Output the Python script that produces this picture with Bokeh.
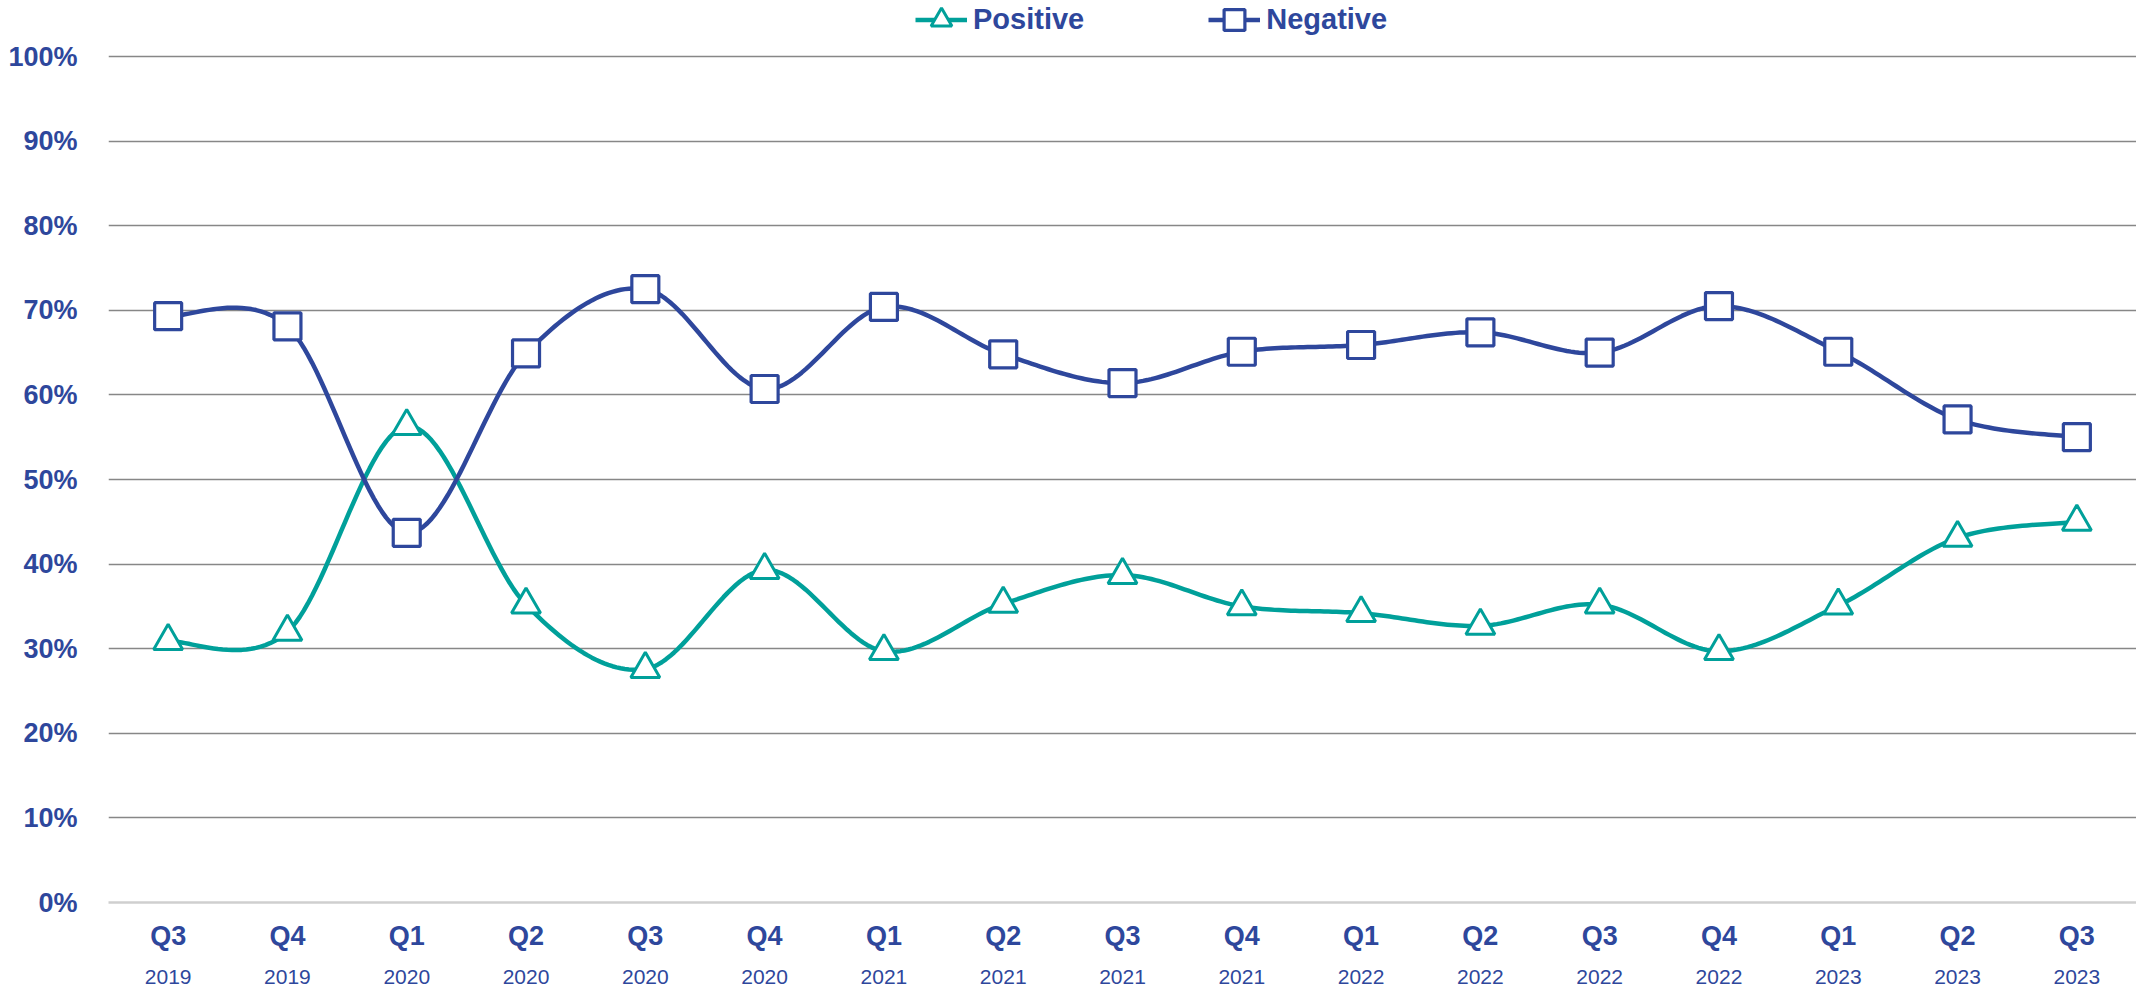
import numpy as np
from bokeh.plotting import figure
from bokeh.models import (Range1d, FixedTicker, LinearAxis, Legend, LegendItem,
                          PrintfTickFormatter)
from bokeh.embed import file_html
from bokeh.resources import INLINE

# ---------------- data ----------------
quarters = ["Q3", "Q4", "Q1", "Q2", "Q3", "Q4", "Q1", "Q2", "Q3", "Q4",
            "Q1", "Q2", "Q3", "Q4", "Q1", "Q2", "Q3"]
years = ["2019", "2019", "2020", "2020", "2020", "2020", "2021", "2021", "2021",
         "2021", "2022", "2022", "2022", "2022", "2023", "2023", "2023"]
positive = [30.9, 32.0, 56.3, 35.2, 27.6, 39.3, 29.7, 35.3, 38.7, 35.0,
            34.2, 32.7, 35.2, 29.7, 35.1, 43.1, 45.0]
negative = [69.3, 68.1, 43.7, 64.9, 72.5, 60.7, 70.4, 64.8, 61.4, 65.1,
            65.9, 67.4, 65.0, 70.5, 65.1, 57.1, 55.0]
y_ticks = [0, 10, 20, 30, 40, 50, 60, 70, 80, 90, 100]
series_names = ["Positive", "Negative"]

BLUE = "#2E479C"
TEAL = "#00A09A"
FONT = "Liberation Sans"

x = [i + 0.5 for i in range(len(quarters))]


def smooth(xs, ys, n=30):
    """Excel-like smoothed line: cubic Bezier segments with Catmull-Rom control points."""
    xs = np.asarray(xs, float)
    ys = np.asarray(ys, float)
    px = np.concatenate([[xs[0]], xs, [xs[-1]]])
    py = np.concatenate([[ys[0]], ys, [ys[-1]]])
    t = np.linspace(0, 1, n)
    ox, oy = [], []
    for i in range(len(xs) - 1):
        x0, y0 = xs[i], ys[i]
        x3, y3 = xs[i + 1], ys[i + 1]
        x1 = x0 + (px[i + 2] - px[i]) / 6
        y1 = y0 + (py[i + 2] - py[i]) / 6
        x2 = x3 - (px[i + 3] - px[i + 1]) / 6
        y2 = y3 - (py[i + 3] - py[i + 1]) / 6
        tt = t if i == 0 else t[1:]
        a = (1 - tt) ** 3
        b = 3 * (1 - tt) ** 2 * tt
        c = 3 * (1 - tt) * tt ** 2
        d = tt ** 3
        ox.extend(a * x0 + b * x1 + c * x2 + d * x3)
        oy.extend(a * y0 + b * y1 + c * y2 + d * y3)
    return ox, oy


# layout (pixels)
PLOT_H = 846          # height of 0..100%
TOP_SPACE = 56        # legend band above 100%
FRAME_H = PLOT_H + TOP_SPACE
FRAME_W = 2028
LEFT = 108
LEG_H = 55
LEG_TOP = -8          # legend box top (only empty glyph padding falls outside)

p = figure(width=LEFT + FRAME_W, height=989, frame_width=FRAME_W, frame_height=FRAME_H,
           output_backend="svg", toolbar_location=None,
           x_range=Range1d(0, len(quarters)),
           y_range=Range1d(0, 100 * FRAME_H / PLOT_H),
           min_border_left=LEFT, min_border_right=0, min_border_top=0,
           min_border_bottom=0, outline_line_color=None)

# grid
p.xgrid.visible = False
p.ygrid.ticker = FixedTicker(ticks=y_ticks[1:])
p.ygrid.grid_line_color = "#878787"
p.ygrid.grid_line_width = 1.7

# y axis
p.yaxis.ticker = FixedTicker(ticks=y_ticks)
p.yaxis.formatter = PrintfTickFormatter(format="%d%%")
p.yaxis.axis_line_color = None
p.yaxis.major_tick_line_color = None
p.yaxis.minor_tick_line_color = None
p.yaxis.major_label_standoff = 25
p.yaxis.major_label_text_font = FONT
p.yaxis.major_label_text_font_style = "bold"
p.yaxis.major_label_text_font_size = "27px"
p.yaxis.major_label_text_color = BLUE

# x axis: quarters
xa = p.xaxis[0]
xa.ticker = FixedTicker(ticks=x)
xa.major_label_overrides = {xi: q for xi, q in zip(x, quarters)}
xa.axis_line_color = "#CFCFCF"
xa.axis_line_width = 2.5
xa.major_tick_line_color = None
xa.minor_tick_line_color = None
xa.major_tick_out = 0
xa.major_tick_in = 0
xa.major_label_standoff = 18
xa.major_label_text_font = FONT
xa.major_label_text_font_style = "bold"
xa.major_label_text_font_size = "27px"
xa.major_label_text_color = BLUE

# x axis: years
ya = LinearAxis(ticker=FixedTicker(ticks=x),
                major_label_overrides={xi: yv for xi, yv in zip(x, years)})
ya.axis_line_color = None
ya.major_tick_line_color = None
ya.minor_tick_line_color = None
ya.major_tick_out = 0
ya.major_tick_in = 0
ya.major_label_standoff = 16
ya.major_label_text_font = FONT
ya.major_label_text_font_size = "21px"
ya.major_label_text_color = BLUE
p.add_layout(ya, "below")

# series
sx, sy = smooth(x, positive)
pos_line = p.line(sx, sy, line_color=TEAL, line_width=4.5, line_join="round")
pos_sc = p.scatter(x, positive, marker="triangle", size=29, line_color=TEAL,
                   line_width=3, fill_color="white")
nx, ny = smooth(x, negative)
neg_line = p.line(nx, ny, line_color=BLUE, line_width=4.5, line_join="round")
neg_sc = p.scatter(x, negative, marker="square", size=27, line_color=BLUE,
                   line_width=3.2, fill_color="white")

legend = Legend(items=[LegendItem(label=series_names[0], renderers=[pos_line, pos_sc]),
                       LegendItem(label=series_names[1], renderers=[neg_line, neg_sc])],
                orientation="horizontal", location=(807, FRAME_H - LEG_H - LEG_TOP),
                glyph_width=52, glyph_height=LEG_H, label_standoff=6, spacing=124,
                padding=0, margin=0, border_line_color=None,
                background_fill_alpha=0,
                label_text_font=FONT, label_text_font_style="bold",
                label_text_font_size="29px", label_text_color=BLUE)
p.add_layout(legend, "center")

open("out.html", "w").write(file_html(p, INLINE))
